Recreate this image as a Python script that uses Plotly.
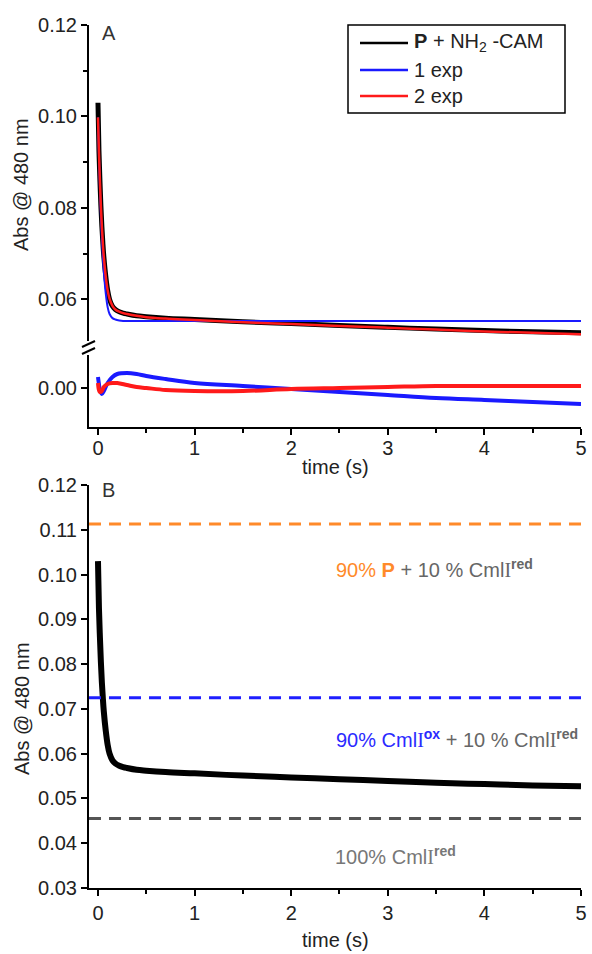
import plotly.graph_objects as go

# ---------------- data ----------------
# kinetic trace (Abs @ 480 nm) and the two fits
t_kin = [0, 0.01, 0.02, 0.03, 0.04, 0.05, 0.06, 0.08, 0.10, 0.12, 0.15, 0.18,
         0.22, 0.26, 0.30, 0.40, 0.50, 0.70, 1.0, 1.5, 2.0, 2.5, 3.0, 3.5,
         4.0, 4.5, 5.0]
abs_obs = [0.1030, 0.0925, 0.0860, 0.0805, 0.0760, 0.0725, 0.0695, 0.0652,
           0.0620, 0.0600, 0.0585, 0.0578, 0.0573, 0.0570, 0.0568, 0.0564,
           0.0562, 0.0559, 0.0556, 0.0551, 0.0547, 0.0543, 0.0539, 0.0535,
           0.0532, 0.0529, 0.0527]
fit_1exp = [0.0998, 0.0912, 0.0842, 0.0784, 0.0736, 0.0696, 0.0663, 0.0614,
            0.0583, 0.0568, 0.0559, 0.0556, 0.0554, 0.0553, 0.0553, 0.0553,
            0.0553, 0.0553, 0.0553, 0.0553, 0.0553, 0.0553, 0.0553, 0.0553,
            0.0553, 0.0553, 0.0553]
fit_2exp = [0.0998, 0.0922, 0.0858, 0.0804, 0.0760, 0.0724, 0.0694, 0.0651,
            0.0620, 0.0601, 0.0586, 0.0578, 0.0573, 0.0570, 0.0568, 0.0564,
            0.0561, 0.0558, 0.0555, 0.0550, 0.0546, 0.0542, 0.0538, 0.0534,
            0.0530, 0.0527, 0.0524]

# residuals of the fits
t_res = [0, 0.01, 0.02, 0.04, 0.06, 0.10, 0.15, 0.20, 0.30, 0.40, 0.50, 0.70,
         1.0, 1.5, 2.0, 2.5, 3.0, 3.5, 4.0, 4.5, 5.0]
res_1exp = [0.0011, 0.0004, -0.0002, -0.0006, -0.0003, 0.0005, 0.0011, 0.0014,
            0.0015, 0.0014, 0.0012, 0.0009, 0.0005, 0.0002, -0.0001, -0.0004,
            -0.0007, -0.0010, -0.0012, -0.0014, -0.0016]
res_2exp = [0.0005, -0.0002, -0.0004, -0.0003, 0.0001, 0.0004, 0.0005, 0.0005,
            0.0003, 0.0001, 0.0000, -0.0002, -0.0003, -0.0003, -0.0001, 0.0000,
            0.0001, 0.0002, 0.0002, 0.0002, 0.0002]

# reference absorbance levels (panel B)
ref_levels = [0.1113, 0.0725, 0.0455]
ref_colors = ["#ff8a2a", "#1f1fff", "#555555"]

x_ticks = [0, 1, 2, 3, 4, 5]

legend_labels = ["<b>P</b> + NH<sub>2</sub> -CAM", "1 exp", "2 exp"]
legend_colors = ["black", "#1a1aff", "#ff1a1a"]

# ---------------- layout helpers ----------------
W, H = 592, 954


def fy(p):
    return 1 - p / H


def fx(p):
    return p / W


FONT = "Liberation Sans, Arial, sans-serif"
TXT = "#222222"
X_DOM = [fx(89), fx(581)]
X_RANGE = [-0.093, 5.0]

fig = go.Figure()

# Panel A: trace and fits
fig.add_trace(go.Scatter(x=t_kin, y=abs_obs, mode="lines", xaxis="x", yaxis="y",
                         line=dict(color=legend_colors[0], width=5, shape="spline")))
fig.add_trace(go.Scatter(x=t_kin, y=fit_1exp, mode="lines", xaxis="x", yaxis="y",
                         line=dict(color=legend_colors[1], width=2, shape="spline")))
fig.add_trace(go.Scatter(x=t_kin, y=fit_2exp, mode="lines", xaxis="x", yaxis="y",
                         line=dict(color=legend_colors[2], width=2.5, shape="spline")))

# Panel A: residuals
fig.add_trace(go.Scatter(x=t_res, y=res_1exp, mode="lines", xaxis="x2", yaxis="y2",
                         line=dict(color=legend_colors[1], width=4, shape="spline")))
fig.add_trace(go.Scatter(x=t_res, y=res_2exp, mode="lines", xaxis="x2", yaxis="y2",
                         line=dict(color=legend_colors[2], width=4, shape="spline")))

# Panel B: trace
fig.add_trace(go.Scatter(x=t_kin, y=abs_obs, mode="lines", xaxis="x3", yaxis="y3",
                         line=dict(color="black", width=6, shape="spline")))

axis_common = dict(showline=True, linecolor="black", linewidth=2, showgrid=False,
                   zeroline=False, ticks="outside", ticklen=6, tickwidth=2,
                   tickcolor="black", automargin=False,
                   tickfont=dict(family=FONT, size=20, color=TXT))

x_minor = dict(dtick=0.5, tick0=0, ticks="outside", ticklen=4, tickwidth=2,
               tickcolor="black")

fig.update_layout(
    template="none",
    width=W, height=H,
    margin=dict(l=0, r=0, t=0, b=0, autoexpand=False),
    paper_bgcolor="white", plot_bgcolor="white",
    showlegend=False,
    font=dict(family=FONT, size=20, color=TXT),
    xaxis=dict(domain=X_DOM, range=X_RANGE, anchor="y", visible=False),
    yaxis=dict(domain=[fy(341), fy(25)], range=[0.0509, 0.12], anchor="x",
               tick0=0, dtick=0.02, tickformat=".2f",
               minor=dict(dtick=0.01, tick0=0, ticks="outside", ticklen=4,
                          tickwidth=2, tickcolor="black"),
               **axis_common),
    xaxis2=dict(domain=X_DOM, range=X_RANGE, anchor="y2", tickvals=x_ticks,
                minor=x_minor, ticklabelstandoff=-4, **axis_common),
    yaxis2=dict(domain=[fy(427), fy(355)], range=[-0.0039, 0.0033], anchor="x2",
                tickvals=[0], ticktext=["0.00"], **axis_common),
    xaxis3=dict(domain=X_DOM, range=X_RANGE, anchor="y3", tickvals=x_ticks,
                minor=x_minor, **axis_common),
    yaxis3=dict(domain=[fy(888), fy(485)], range=[0.03, 0.12], anchor="x3",
                tick0=0, dtick=0.01, tickformat=".2f", **axis_common),
)

# reference levels in panel B
for lvl, col in zip(ref_levels, ref_colors):
    fig.add_shape(type="line", xref="paper", yref="y3", x0=fx(89), x1=fx(588),
                  y0=lvl, y1=lvl, line=dict(color=col, width=3, dash="12px,8px"))

# axis break on panel A's y axis: white gap plus two slanted strokes
fig.add_shape(type="line", xref="paper", yref="paper", x0=fx(89), x1=fx(89),
              y0=fy(354), y1=fy(342), line=dict(color="white", width=4), layer="above")
for yc in (344, 351):
    fig.add_shape(type="line", xref="paper", yref="paper",
                  x0=fx(82), x1=fx(95), y0=fy(yc + 3), y1=fy(yc - 3),
                  line=dict(color="black", width=2), layer="above")

# legend box for panel A
fig.add_shape(type="rect", xref="paper", yref="paper", x0=fx(348), x1=fx(565),
              y0=fy(113), y1=fy(25), line=dict(color="black", width=1.5),
              fillcolor="rgba(0,0,0,0)", layer="above")
legend_rows = [43, 70, 96]
annotations = []
for lab, col, yr in zip(legend_labels, legend_colors, legend_rows):
    fig.add_shape(type="line", xref="paper", yref="paper", x0=fx(360), x1=fx(408),
                  y0=fy(yr), y1=fy(yr), line=dict(color=col, width=2.5))
    annotations.append(dict(text=lab, x=fx(412), y=fy(yr), xanchor="left",
                            yanchor="middle", font=dict(size=20, color=TXT)))

grey = "#666666"
serif_I = "<span style='font-family:Liberation Serif, serif'>I</span>"

annotations += [
    dict(text="A", x=fx(100), y=fy(33), xanchor="left", yanchor="middle",
         font=dict(size=20, color="#333333")),
    dict(text="B", x=fx(100), y=fy(490), xanchor="left", yanchor="middle",
         font=dict(size=20, color="#333333")),
    dict(text="Abs @ 480 nm", x=fx(21), y=fy(185), textangle=-90,
         xanchor="center", yanchor="middle", font=dict(size=20, color=TXT)),
    dict(text="Abs @ 480 nm", x=fx(22), y=fy(709), textangle=-90,
         xanchor="center", yanchor="middle", font=dict(size=20, color=TXT)),
    dict(text="time (s)", x=fx(335), y=fy(467), xanchor="center", yanchor="middle",
         font=dict(size=20, color=TXT)),
    dict(text="time (s)", x=fx(335), y=fy(940), xanchor="center", yanchor="middle",
         font=dict(size=20, color=TXT)),
    dict(text="<span style='color:#ff8a2a'>90% </span><span style='color:#ff8a2a'><b>P</b></span>"
              " + 10 % Cml" + serif_I + "<sup><b>red</b></sup>",
         x=fx(334), y=fy(568), xanchor="left", yanchor="middle",
         font=dict(size=20, color=grey)),
    dict(text="<span style='color:#2a2aff'>90% Cml</span>"
              "<span style='color:#2a2aff;font-family:Liberation Serif, serif'>I</span>"
              "<sup><span style='color:#2a2aff'><b>ox</b></span></sup>"
              " + 10 % Cml" + serif_I + "<sup><b>red</b></sup>",
         x=fx(334), y=fy(738), xanchor="left", yanchor="middle",
         font=dict(size=20, color=grey)),
    dict(text="100% Cml" + serif_I + "<sup><b>red</b></sup>",
         x=fx(333), y=fy(855), xanchor="left", yanchor="middle",
         font=dict(size=20, color="#777777")),
]
for a in annotations:
    a.update(xref="paper", yref="paper", showarrow=False)
    a["font"].setdefault("family", FONT)
fig.update_layout(annotations=annotations)

fig.write_html("out.html")
